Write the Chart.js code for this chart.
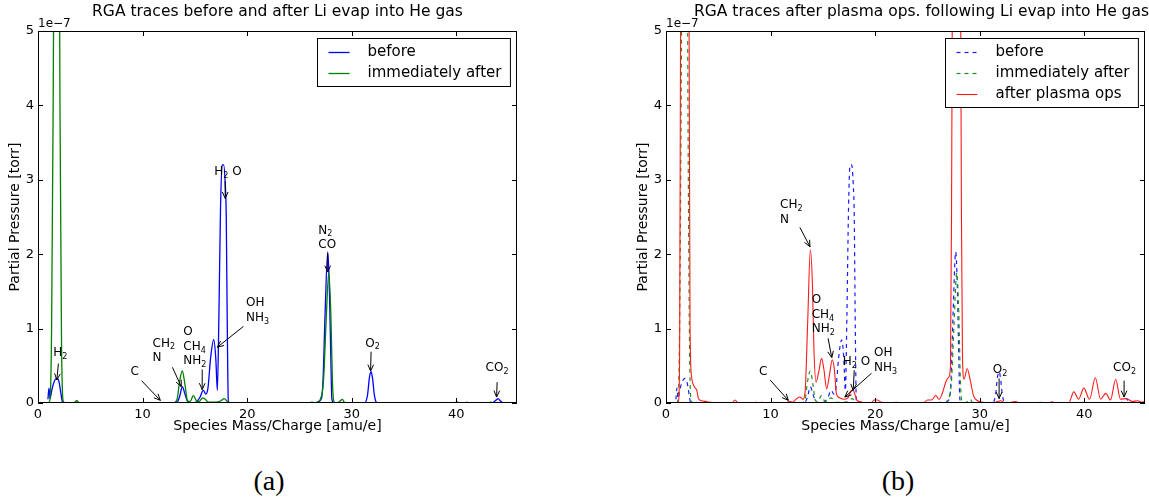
<!DOCTYPE html>
<html lang="en">
<head>
<meta charset="UTF-8">
<title>RGA traces</title>
<script src="https://cdn.jsdelivr.net/npm/chart.js"></script>
<style>
    body {
        margin: 0;
        background: #ffffff;
        width: 1149px;
        height: 497px;
        overflow: hidden;
        position: relative;
    }

    canvas {
        position: absolute;
        top: 0;
    }

    #chartA { left: 0; }
    #chartB { left: 574px; }

    .caption {
        position: absolute;
        top: 465px;
        font-family: 'Liberation Serif', serif;
        font-size: 28px;
        line-height: 32px;
        transform: translateX(-50%);
        color: #000;
    }
</style>
</head>
<body>
<canvas id="chartA" width="574" height="440"></canvas>
<canvas id="chartB" width="575" height="440"></canvas>
<div class="caption" style="left:269px">(a)</div>
<div class="caption" style="left:898px">(b)</div>

<script>
    // partial pressures in units of 1e-7 torr, as [mass/charge, pressure]
    const before = [
        [0.95, 0.05], [1.05, 0.2], [1.15, 0.06], [1.3, 0.16], [1.5, 0.27], [1.8, 0.33], [2.0, 0.29],
        [2.2, 0.12], [2.35, 0.01], [2.6, 0], [8.0, 0], [13.0, 0], [13.3, 0.01], [13.55, 0.09],
        [13.8, 0.22], [14.05, 0.12], [14.35, 0.01], [14.8, 0], [15.2, 0.02], [15.5, 0.08], [15.8, 0.17],
        [16.05, 0.12], [16.25, 0.2], [16.5, 0.6], [16.8, 0.85], [17.0, 0.6], [17.15, 0.17], [17.3, 1.2],
        [17.45, 2.6], [17.6, 3.2], [17.75, 3.2], [17.9, 2.95], [18.0, 2.5], [18.1, 1.0], [18.2, 0.02],
        [18.4, 0], [26.5, 0], [26.8, 0.02], [27.1, 0.06], [27.25, 0.3], [27.45, 1.2], [27.7, 2.03],
        [27.85, 1.6], [28.0, 0.6], [28.1, 0.05], [28.3, 0], [31.2, 0], [31.5, 0.1], [31.7, 0.35],
        [31.85, 0.42], [32.0, 0.32], [32.15, 0.12], [32.35, 0.01], [32.6, 0], [39.9, 0], [40.1, 0.01],
        [40.3, 0], [43.4, 0], [43.8, 0.04], [44.0, 0.06], [44.2, 0.03], [44.5, 0], [45.8, 0]
    ];

    const immediatelyAfter = [
        [1.0, 0], [1.15, 0.05], [1.3, 1.0], [1.45, 4.0], [1.55, 7], [1.8, 12], [2.0, 8], [2.1, 4],
        [2.25, 0.8], [2.4, 0.03], [2.6, 0], [3.4, 0], [3.7, 0.03], [4.0, 0], [13.0, 0], [13.3, 0.05],
        [13.55, 0.3], [13.8, 0.43], [14.05, 0.25], [14.3, 0.03], [14.55, 0.02], [14.85, 0.1],
        [15.15, 0.03], [15.4, 0.02], [15.75, 0.07], [16.0, 0.05], [16.3, 0.01], [17.0, 0.01],
        [17.5, 0.03], [17.8, 0.06], [18.1, 0.02], [18.4, 0], [25.8, 0], [26.2, 0.01], [26.6, 0],
        [27.0, 0.05], [27.3, 0.3], [27.55, 1.1], [27.8, 1.75], [28.0, 1.2], [28.15, 0.3], [28.3, 0.02],
        [28.6, 0], [28.9, 0.03], [29.1, 0.05], [29.35, 0], [39.8, 0], [40.0, 0.01], [40.2, 0],
        [40.8, 0], [41.0, 0.01], [41.2, 0], [43.0, 0], [43.3, 0.01], [43.6, 0], [45.8, 0]
    ];

    const afterPlasma = [
        [1.0, 0], [1.2, 0.02], [1.3, 0.6], [1.4, 5.5], [1.6, 12], [2.0, 12], [2.2, 5.5], [2.3, 1.0],
        [2.45, 0.35], [2.7, 0.22], [2.95, 0.17], [3.1, 0.06], [3.4, 0.03], [3.8, 0.02], [4.3, 0.01],
        [5.0, 0], [6.3, 0], [6.6, 0.04], [6.9, 0], [8.3, 0], [8.6, 0.01], [8.9, 0], [9.2, 0.01],
        [9.5, 0], [11.4, 0], [11.8, 0.02], [12.1, 0.01], [12.5, 0.06], [12.8, 0.08], [13.1, 0.05],
        [13.3, 0.15], [13.55, 1.1], [13.8, 2.06], [14.0, 1.6], [14.15, 0.7], [14.35, 0.28],
        [14.6, 0.42], [14.88, 0.6], [15.1, 0.45], [15.36, 0.19], [15.6, 0.35], [15.9, 0.58],
        [16.1, 0.45], [16.3, 0.12], [16.6, 0.07], [17.0, 0.05], [17.4, 0.07], [17.75, 0.17],
        [17.9, 0.17], [18.1, 0.1], [18.3, 0.03], [18.8, 0.01], [19.6, 0], [19.9, 0.04], [20.2, 0.04],
        [20.6, 0.01], [21.6, 0], [22.0, 0.01], [22.4, 0], [24.6, 0], [25.0, 0.04], [25.4, 0.04],
        [25.8, 0.1], [26.1, 0.05], [26.4, 0.12], [26.8, 0.3], [27.05, 0.35], [27.2, 0.5], [27.3, 2.5],
        [27.45, 8], [27.8, 12], [28.1, 8], [28.25, 2.5], [28.35, 0.6], [28.5, 0.32], [28.8, 0.46],
        [29.1, 0.3], [29.4, 0.1], [29.8, 0.03], [30.3, 0.01], [31.0, 0], [31.5, 0.01], [32.0, 0.03],
        [32.4, 0], [33.0, 0.01], [33.4, 0.02], [33.8, 0], [35.5, 0], [35.8, 0.01], [36.1, 0],
        [36.6, 0], [36.9, 0.015], [37.2, 0], [38.5, 0], [39.0, 0.15], [39.45, 0.05], [39.95, 0.2],
        [40.5, 0.05], [41.05, 0.34], [41.55, 0.05], [42.05, 0.13], [42.5, 0.04], [43.0, 0.32],
        [43.45, 0.05], [44.0, 0.06], [44.6, 0.02], [45.1, 0.03], [45.5, 0.01], [45.8, 0.02]
    ];

    const xTicks = [0, 10, 20, 30, 40];
    const yTicks = [0, 1, 2, 3, 4, 5];

    // species labels: text lines, text position, arrow tail and arrow head (data coords)
    const notesA = [
        { text: ['H_2'], at: [1.45, 0.67], tail: [1.95, 0.53], head: [1.8, 0.31] },
        { text: ['C'], at: [8.85, 0.42], tail: [9.9, 0.3], head: [11.7, 0.035] },
        { text: ['CH_2', 'N'], at: [10.95, 0.8], tail: [12.85, 0.48], head: [13.7, 0.22] },
        { text: ['O', 'CH_4', 'NH_2'], at: [13.9, 0.95], tail: [15.7, 0.45], head: [15.7, 0.18] },
        { text: ['OH', 'NH_3'], at: [19.9, 1.34], tail: [19.65, 1.03], head: [17.15, 0.75] },
        { text: ['H_2 O'], at: [16.85, 3.1], tail: [17.9, 2.98], head: [17.9, 2.75] },
        { text: ['N_2', 'CO'], at: [26.8, 2.32], tail: [27.7, 2.01], head: [27.7, 1.76] },
        { text: ['O_2'], at: [31.3, 0.8], tail: [31.85, 0.69], head: [31.8, 0.43] },
        { text: ['CO_2'], at: [42.8, 0.47], tail: [43.9, 0.28], head: [43.85, 0.08] }
    ];

    const notesB = [
        { text: ['CH_2', 'N'], at: [10.9, 2.66], tail: [12.8, 2.36], head: [13.77, 2.1] },
        { text: ['O', 'CH_4', 'NH_2'], at: [13.93, 1.38], tail: [15.5, 0.87], head: [15.85, 0.61] },
        { text: ['C'], at: [8.9, 0.42], tail: [9.95, 0.31], head: [11.7, 0.035] },
        { text: ['H_2 O'], at: [16.9, 0.55], tail: [18.0, 0.44], head: [17.9, 0.17] },
        { text: ['OH', 'NH_3'], at: [19.9, 0.67], tail: [19.65, 0.4], head: [17.1, 0.08] },
        { text: ['O_2'], at: [31.25, 0.44], tail: [31.85, 0.33], head: [31.85, 0.06] },
        { text: ['CO_2'], at: [42.75, 0.47], tail: [43.8, 0.3], head: [43.8, 0.08] }
    ];

    const SANS = "'DejaVu Sans', sans-serif";

    function toPoints(series) {
        return series.map(p => ({ x: p[0], y: p[1] }));
    }

    // text with "_2" style subscripts
    function drawLabel(ctx, text, x, y, size) {
        const parts = text.split(/_(\d)/);
        let cx = x;
        parts.forEach((part, i) => {
            if (!part) return;
            const sub = i % 2 === 1;
            ctx.font = (sub ? Math.round(size * 0.68) : size) + 'px ' + SANS;
            ctx.fillText(part, cx, sub ? y + size * 0.32 : y);
            cx += ctx.measureText(part).width;
        });
    }

    function drawArrow(ctx, x1, y1, x2, y2) {
        const a = Math.atan2(y2 - y1, x2 - x1), len = 7, w = 0.42;
        ctx.beginPath();
        ctx.moveTo(x1, y1);
        ctx.lineTo(x2, y2);
        ctx.moveTo(x2 - len * Math.cos(a - w), y2 - len * Math.sin(a - w));
        ctx.lineTo(x2, y2);
        ctx.lineTo(x2 - len * Math.cos(a + w), y2 - len * Math.sin(a + w));
        ctx.stroke();
    }

    // axes box, inward ticks, titles, legend and species labels
    const decor = {
        id: 'decor',
        afterDatasetsDraw(chart, args, opts) {
            const { ctx, chartArea: a } = chart;
            const xs = chart.scales.x, ys = chart.scales.y;
            ctx.save();
            ctx.strokeStyle = '#000';
            ctx.fillStyle = '#000';
            ctx.lineWidth = 1;
            ctx.setLineDash([]);

            ctx.strokeRect(a.left + 0.5, a.top + 0.5, a.width - 1, a.height - 1);
            ctx.beginPath();
            xTicks.forEach(v => {
                const px = Math.round(xs.getPixelForValue(v)) + 0.5;
                ctx.moveTo(px, a.bottom); ctx.lineTo(px, a.bottom - 5);
                ctx.moveTo(px, a.top); ctx.lineTo(px, a.top + 5);
            });
            yTicks.forEach(v => {
                const py = Math.round(ys.getPixelForValue(v)) + 0.5;
                ctx.moveTo(a.left, py); ctx.lineTo(a.left + 5, py);
                ctx.moveTo(a.right, py); ctx.lineTo(a.right - 5, py);
            });
            ctx.stroke();

            const mid = (a.left + a.right) / 2;
            ctx.textBaseline = 'middle';
            ctx.textAlign = 'center';
            ctx.font = '15.5px ' + SANS;
            ctx.fillText(opts.title, mid + opts.titleShift, a.top - 19);
            ctx.font = '14px ' + SANS;
            ctx.fillText('Species Mass/Charge [amu/e]', mid, a.bottom + 23);
            ctx.save();
            ctx.translate(a.left - 23, (a.top + a.bottom) / 2);
            ctx.rotate(-Math.PI / 2);
            ctx.fillText('Partial Pressure [torr]', 0, 0);
            ctx.restore();

            ctx.textAlign = 'left';
            ctx.textBaseline = 'alphabetic';
            ctx.font = '12px ' + SANS;
            ctx.fillText('1e\u22127', a.left, a.top - 4);

            // legend
            const sets = chart.data.datasets;
            ctx.font = '15px ' + SANS;
            const textW = Math.max(...sets.map(d => ctx.measureText(d.label).width));
            const boxW = 11 + 21 + 18 + textW + 9;
            const boxH = sets.length * 21 + 6;
            const bx = Math.round(a.right - 7 - boxW) + 0.5, by = a.top + 7.5;
            ctx.fillStyle = '#fff';
            ctx.fillRect(bx, by, boxW, boxH);
            ctx.strokeRect(bx, by, boxW, boxH);
            ctx.textBaseline = 'middle';
            sets.forEach((d, i) => {
                const ry = by + 14 + i * 21;
                ctx.strokeStyle = d.borderColor;
                ctx.lineWidth = d.borderWidth;
                ctx.setLineDash(d.borderDash || []);
                ctx.beginPath();
                ctx.moveTo(bx + 11, ry); ctx.lineTo(bx + 32, ry);
                ctx.stroke();
                ctx.fillStyle = '#000';
                ctx.fillText(d.label, bx + 50, ry);
            });
            ctx.setLineDash([]);

            // species labels with arrows
            ctx.strokeStyle = '#000';
            ctx.fillStyle = '#000';
            ctx.lineWidth = 1;
            opts.notes.forEach(n => {
                const tx = xs.getPixelForValue(n.at[0]), ty = ys.getPixelForValue(n.at[1]);
                n.text.forEach((line, i) => drawLabel(ctx, line, tx, ty + i * 14.5, 12));
                drawArrow(ctx,
                    xs.getPixelForValue(n.tail[0]), ys.getPixelForValue(n.tail[1]),
                    xs.getPixelForValue(n.head[0]), ys.getPixelForValue(n.head[1]));
            });
            ctx.restore();
        }
    };

    function makeChart(id, datasets, title, titleShift, notes, padLeft, padRight) {
        const tickFont = { family: SANS, size: 13 };
        return new Chart(document.getElementById(id), {
            type: 'line',
            data: { datasets: datasets },
            options: {
                responsive: false,
                animation: false,
                devicePixelRatio: 1,
                layout: { padding: { left: padLeft, right: padRight, top: 31, bottom: 0 } },
                elements: {
                    point: { radius: 0 },
                    line: { cubicInterpolationMode: 'monotone', borderCapStyle: 'butt', fill: false }
                },
                plugins: {
                    legend: { display: false },
                    tooltip: { enabled: false },
                    decor: { title: title, titleShift: titleShift, notes: notes }
                },
                scales: {
                    x: {
                        type: 'linear',
                        min: 0,
                        max: 45.8,
                        grid: { display: false, drawTicks: false },
                        border: { display: false },
                        afterBuildTicks: s => { s.ticks = xTicks.map(v => ({ value: v })); },
                        afterFit: s => { s.height = 37; },
                        ticks: { color: '#000', font: tickFont, padding: 4, maxRotation: 0, autoSkip: false }
                    },
                    y: {
                        type: 'linear',
                        min: 0,
                        max: 5,
                        grid: { display: false, drawTicks: false },
                        border: { display: false },
                        afterBuildTicks: s => { s.ticks = yTicks.map(v => ({ value: v })); },
                        afterFit: s => { s.width = 38; },
                        ticks: { color: '#000', font: tickFont, padding: 4, autoSkip: false }
                    }
                }
            },
            plugins: [decor]
        });
    }

    makeChart('chartA', [
        { label: 'before', data: toPoints(before), borderColor: '#0000ff', borderWidth: 1.3, order: 2 },
        { label: 'immediately after', data: toPoints(immediatelyAfter), borderColor: '#008000', borderWidth: 1.3, order: 1 }
    ], 'RGA traces before and after Li evap into He gas', 0, notesA, 0, 57);

    makeChart('chartB', [
        { label: 'before', data: toPoints(before), borderColor: '#1a1aff', borderWidth: 1.2, borderDash: [4, 4], order: 3 },
        { label: 'immediately after', data: toPoints(immediatelyAfter), borderColor: '#1e961e', borderWidth: 1.2, borderDash: [4, 4], order: 2 },
        { label: 'after plasma ops', data: toPoints(afterPlasma), borderColor: '#ff1a1a', borderWidth: 1.1, order: 1 }
    ], 'RGA traces after plasma ops. following Li evap into He gas', 16, notesB, 54, 4);
</script>
</body>
</html>
